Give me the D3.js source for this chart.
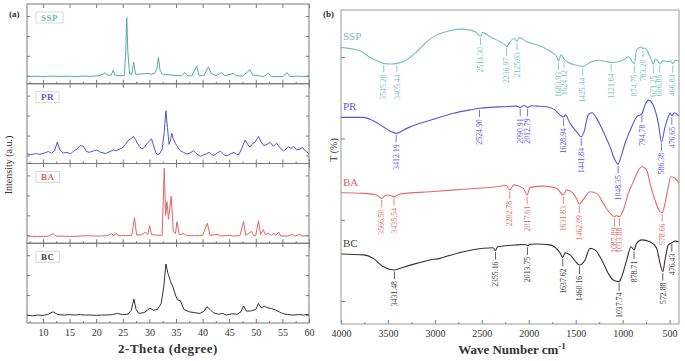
<!DOCTYPE html>
<html>
<head>
<meta charset="utf-8">
<script src="https://cdn.jsdelivr.net/npm/d3@7"></script>
<style>
  body { margin: 0; background: #fff; }
  text { font-family: "Liberation Serif", "Times New Roman", serif; }
</style>
</head>
<body>
<svg width="685" height="361"></svg>
<script>
// ---- (a) XRD patterns, [2-theta, intensity a.u.] ----
var sspXrd = [[7,9],[8.5,9.5],[10,9],[11.5,9.6],[13,9.1],[14.5,9.5],[16,9],[17.5,9.6],[19,9.2],[20.5,10],[21.3,12],[21.7,14],[22.1,11],[22.8,10.5],[23.2,17],[23.5,11],[24.5,10],[25.3,10.5],[25.55,40],[25.75,83],[25.95,40],[26.3,12],[26.7,12],[27.05,27],[27.4,12],[28,12],[29,12.5],[29.8,13],[30.3,12],[31,13],[31.4,18],[31.7,33],[32,17],[32.5,12],[33,11.5],[34,11],[35,10.5],[36,10],[36.7,14],[37.2,10],[38,10],[38.9,22],[39.3,11],[40.2,10],[41.1,21],[41.6,13],[42.5,10],[43.6,14],[44.2,10],[45.8,13],[46.3,10],[47.5,9.5],[48.9,17.5],[49.4,11],[50.5,10],[51.5,9],[52.4,13],[52.9,9],[54,9],[55.1,9],[55.9,14],[56.4,9],[58,9.5],[59,9],[60,10]];
var prXrd = [[7,12],[7.8,11],[8.6,12.5],[9.4,11.5],[10.2,13],[11,15],[11.6,13],[12.2,16],[12.7,27],[13.2,17],[13.8,13],[14.5,14],[15.2,12],[15.8,16],[16.4,18],[17,22.5],[17.6,21.5],[18.2,15],[18.7,14],[19.4,15.5],[20.1,17],[20.8,14],[21.8,12.5],[22.6,15],[23.2,17],[23.7,16],[24.3,18],[24.8,19],[25.5,24],[26,29],[26.5,31],[27,34],[27.4,30],[27.8,25],[28.2,21],[28.6,18],[29,20],[29.5,24.5],[30,28],[30.4,31],[30.8,22],[31.2,14],[31.5,11],[32,13],[32.4,18],[32.8,40],[33.1,66],[33.4,45],[33.7,24],[34,30],[34.2,38],[34.5,31],[34.9,25],[35.3,21],[35.8,16],[36.4,14],[37,12],[37.6,13],[38.3,16],[38.9,12],[39.6,9],[40.2,11],[40.7,12],[41.2,14],[41.7,11],[42.1,10],[42.7,13],[43.4,15.5],[44,11],[44.6,9.5],[45.2,12],[45.9,14],[46.4,11],[46.8,11],[47.3,18],[48,29.5],[48.5,24],[48.9,20.5],[49.4,25],[49.9,27],[50.5,34],[51,27],[51.5,22.5],[52.1,24],[52.7,26.5],[53.3,21.5],[53.9,25.5],[54.5,20],[55.2,16],[55.7,18],[56.1,21],[56.6,19],[57.1,21.5],[57.7,17],[58.3,18],[58.8,20],[59.3,16],[60,12.5]];
var baXrd = [[7,9],[9,8.5],[11,8.8],[11.9,12],[12.4,9],[14,8.7],[16,8.6],[18,9.5],[20,9],[22,9.3],[22.9,12],[23.3,9.5],[23.8,12],[24.3,9.5],[25.5,9.5],[26.7,10],[27.2,32],[27.6,10.5],[28.5,10.5],[29.3,14],[29.7,11],[30.05,22],[30.4,11],[31.5,10],[32.4,10],[32.8,94],[33.05,35],[33.3,52],[33.6,30],[34.1,59],[34.5,15],[34.9,12],[35.2,27],[35.6,11],[36.5,12],[37,9.5],[38.5,9.5],[40,10],[40.9,25],[41.4,10],[42.9,11],[43.4,9],[45.1,10],[45.6,9],[47,9.5],[47.7,28],[48.1,10],[49.2,15],[49.6,9.5],[50,10],[50.5,28],[50.9,11],[51.4,17],[51.8,11],[52.4,12.5],[52.9,10],[53.4,12.5],[53.8,10],[54.3,14],[54.7,9],[56,9],[56.9,11],[57.3,9],[58.3,11],[58.7,9],[60,9.5]];
var bcXrd = [[7,10],[8,9],[9,10],[10,9.5],[11,11],[11.9,14],[12.8,10.5],[14,10],[15,10.5],[16,10],[17,10.5],[18,10],[19,10],[20,9.5],[21,10],[22,10],[23,10.5],[24,12],[25,10.5],[26,11],[26.6,16],[27.1,30],[27.5,17],[28,12],[29,13],[30.1,18.5],[30.8,16],[31.5,17],[32.2,24],[32.7,45],[33.1,74],[33.5,62],[34,52],[34.5,44],[34.9,35],[35.3,29],[35.8,28],[36.5,17],[37.5,14],[38.5,13],[39.5,12],[40.3,15],[40.8,20.5],[41.4,17],[42,13],[43,11],[43.7,12],[44.5,10],[45.5,11.5],[46.5,11],[47.2,14],[47.7,21.5],[48.2,15],[49,15],[50,17],[50.5,24.5],[51,19],[51.6,21],[52.3,19],[53,18],[53.7,16.5],[54.4,14],[55,12],[56,10.5],[57,10],[58,10.5],[59,10],[60,11]];
var xrdNames = ["SSP", "PR", "BA", "BC"];
var thetaTicks = [10, 15, 20, 25, 30, 35, 40, 45, 50, 55, 60];

// ---- (b) FTIR spectra, [wave number, T (%)] (curves stacked) ----
var sspIr = [[4000,88.1],[3800,87.0],[3690,84.9],[3600,83.6],[3545.28,83.0],[3470,82.8],[3405.44,83.0],[3300,84.1],[3194,86.7],[3087,89.9],[2981,92.0],[2840,93.4],[2733,93.9],[2626,93.6],[2560,92.9],[2514.30,91.7],[2490,92.8],[2413,91.5],[2307,89.9],[2260,89.0],[2236.97,88.3],[2200,89.8],[2160,90.9],[2125.63,90.1],[2100,91.2],[2022,89.9],[1916,88.9],[1809,87.5],[1739,86.2],[1700,85.0],[1683.93,83.8],[1655,85.8],[1624.12,84.4],[1580,83.3],[1500,82.5],[1425.44,82.0],[1350,83.3],[1250,84.0],[1180,83.6],[1121.64,83.3],[1040,83.6],[980,84.3],[940,85.1],[874.75,82.9],[851,87.3],[800,88.2],[783.20,87.7],[760,87.9],[744,87.3],[700,84.5],[671.25,82.7],[655,84.3],[630,84.0],[606.85,82.9],[570,83.8],[520,83.6],[490,83.8],[466.84,82.9],[440,84.0],[400,83.8]];
var prIr = [[4000,65.8],[3762,65.8],[3656,64.7],[3549,62.8],[3480,61.5],[3412.19,60.7],[3300,62.3],[3159,63.9],[2981,65.5],[2804,67.1],[2626,68.2],[2524.90,68.7],[2413,69.0],[2271,69.2],[2129,69.4],[2090.91,69.0],[2050,69.6],[2012.79,69.0],[1970,69.5],[1916,69.4],[1809,69.2],[1721,68.2],[1668,66.6],[1628.94,65.9],[1610,66.6],[1561,63.9],[1490,61.2],[1441.84,59.6],[1412,61.2],[1366,66.6],[1330,67.3],[1277,65.5],[1206,61.2],[1135,56.5],[1082,52.2],[1048.35,50.9],[1029,52.2],[975,57.5],[904,62.8],[851,66.0],[794.78,67.0],[762,69.7],[727,71.3],[674,69.7],[620,63.9],[586.38,58.0],[549,62.8],[514,66.0],[495,67.2],[476.65,66.3],[450,67.3],[400,66.2]];
var baIr = [[4000,41.8],[3762,41.6],[3620,41.1],[3566.50,40.0],[3520,41.1],[3480,41.0],[3435.54,40.5],[3372,41.4],[3052,42.1],[2698,42.9],[2342,43.7],[2240,44.1],[2202.78,42.7],[2160,44.3],[2058,43.2],[2017.61,41.1],[1987,43.5],[1845,43.9],[1703,43.2],[1631.83,41.1],[1596,42.7],[1526,41.6],[1490,39.8],[1462.09,38.2],[1420,39.6],[1348,42.1],[1277,41.6],[1206,38.4],[1135,35.3],[1087.89,34.2],[1064,34.5],[1033.88,34.2],[993,36.3],[940,41.6],[887,45.3],[797,50.1],[744,49.0],[709,44.8],[656,39.5],[602,35.8],[578.66,35.5],[549,38.4],[514,43.7],[488,46.9],[443,46.4],[400,44.8]];
var bcIr = [[4000,22.3],[3762,22.0],[3656,20.9],[3549,18.2],[3431.48,17.2],[3336,18.1],[3194,19.3],[3052,20.4],[2946,20.9],[2892,21.4],[2698,23.0],[2484,24.1],[2380,24.3],[2355.16,23.4],[2330,24.6],[2129,25.2],[2040,25.3],[2013.75,24.9],[1990,25.4],[1916,25.5],[1774,25.2],[1668,22.7],[1637.62,21.2],[1614,22.7],[1561,22.0],[1490,19.5],[1460.16,18.8],[1401,20.4],[1348,24.1],[1295,23.6],[1223,20.4],[1153,16.1],[1100,14.0],[1037.74,13.5],[1010,15.1],[957,20.4],[911,24.6],[878.71,23.6],[851,25.7],[797,26.8],[709,26.2],[638,24.1],[602,19.3],[572.88,16.7],[549,20.4],[514,25.2],[476.43,25.9],[443,26.4],[400,26.2]];
var sspPeaks = ["3545.28","3405.44","2514.30","2236.97","2125.63","1683.93","1624.12","1425.44","1121.64","874.75","783.20","671.25","606.85","466.84"];
var prPeaks = ["3412.19","2524.90","2090.91","2012.79","1628.94","1441.84","1048.35","794.78","586.38","476.65"];
var baPeaks = ["3566.50","3435.54","2202.78","2017.61","1631.83","1462.09","1087.89","1033.88","578.66"];
var bcPeaks = ["3431.48","2355.16","2013.75","1637.62","1460.16","1037.74","878.71","572.88","476.43"];
var waveTicks = [4000, 3500, 3000, 2500, 2000, 1500, 1000, 500];

var colors = ["#4fae9e", "#5252d6", "#e26464", "#333333"];
var irColors = ["#74c1b3", "#5656dc", "#e46a6a", "#333333"];
var labelColors = ["#6cc0b2", "#5a5ae0", "#e06060", "#444444"];

var svg = d3.select("svg");
var frameColor = "#7a7a7a";

// ================= panel (a) =================
var x = d3.scaleLinear().domain([7, 60]).range([27, 309]);
var panelTop = 4, panelH = 79.75;
var xrdSets = [sspXrd, prXrd, baXrd, bcXrd];

function styleAxis(g) {
  g.select(".domain").remove();
  g.selectAll(".tick line").attr("stroke", frameColor);
  g.selectAll(".tick text").attr("fill", "#333").style("font-size", "10px");
}

xrdSets.forEach(function(data, i) {
  var top = panelTop + i * panelH;
  var bottom = top + panelH;
  var y = d3.scaleLinear().domain([0, 100]).range([bottom, top]);
  var g = svg.append("g");

  g.append("g")
    .attr("transform", "translate(0," + bottom + ")")
    .call(d3.axisBottom(x).tickValues(thetaTicks).tickSize(-4).tickPadding(6)
      .tickFormat(i === 3 ? d3.format("d") : ""))
    .call(styleAxis);
  g.append("g")
    .attr("transform", "translate(0," + bottom + ")")
    .call(d3.axisBottom(x).tickValues(thetaTicks.map(d => d - 2.5)).tickSize(-2).tickFormat(""))
    .call(styleAxis);
  g.append("g")
    .attr("transform", "translate(0," + top + ")")
    .call(d3.axisTop(x).tickValues(thetaTicks).tickSize(-4).tickFormat(""))
    .call(styleAxis);
  g.append("g")
    .attr("transform", "translate(27,0)")
    .call(d3.axisLeft(y).tickValues([10, 35, 60, 85]).tickSize(-3).tickFormat(""))
    .call(styleAxis);
  g.append("g")
    .attr("transform", "translate(309,0)")
    .call(d3.axisRight(y).tickValues([10, 35, 60, 85]).tickSize(-3).tickFormat(""))
    .call(styleAxis);

  g.append("path")
    .datum(data)
    .attr("fill", "none")
    .attr("stroke", colors[i])
    .attr("stroke-width", 1)
    .attr("d", d3.line().x(d => x(d[0])).y(d => y(d[1])));

  g.append("rect")
    .attr("x", 27).attr("y", top)
    .attr("width", 282).attr("height", panelH)
    .attr("fill", "none").attr("stroke", frameColor);

  var box = g.append("rect")
    .attr("x", 36).attr("y", top + 8)
    .attr("height", 11)
    .attr("fill", "#fff").attr("stroke", "#cfcfcf").attr("stroke-width", 0.8);
  var lbl = g.append("text")
    .attr("x", 41).attr("y", top + 16.5)
    .attr("fill", labelColors[i])
    .style("font-size", "9px").style("font-weight", "bold")
    .style("letter-spacing", "0.5px")
    .text(xrdNames[i]);
  box.attr("width", lbl.node().getComputedTextLength() + 10);
});

svg.append("text")
  .attr("x", 168).attr("y", 353)
  .attr("text-anchor", "middle")
  .attr("fill", "#333")
  .style("font-size", "13px").style("font-weight", "bold").style("letter-spacing", "0.5px")
  .text("2-Theta (degree)");

svg.append("text")
  .attr("transform", "translate(12,165) rotate(-90)")
  .attr("text-anchor", "middle")
  .attr("fill", "#333")
  .style("font-size", "10px")
  .text("Intensity (a.u.)");

svg.append("text")
  .attr("x", 9).attr("y", 17)
  .attr("fill", "#333")
  .style("font-size", "9px").style("font-weight", "bold")
  .text("(a)");

// ================= panel (b) =================
var xw = d3.scaleLinear().domain([4000, 400]).range([341, 679]);
var yt = d3.scaleLinear().domain([0, 100]).range([324, 10]);

var gb = svg.append("g");
gb.append("g")
  .attr("transform", "translate(0,324)")
  .call(d3.axisBottom(xw).tickValues(waveTicks).tickSize(-4).tickPadding(6).tickFormat(d3.format("d")))
  .call(styleAxis);
gb.append("g")
  .attr("transform", "translate(0,324)")
  .call(d3.axisBottom(xw).tickValues(waveTicks.map(d => d - 250)).tickSize(-2).tickFormat(""))
  .call(styleAxis);
gb.append("g")
  .attr("transform", "translate(341,0)")
  .call(d3.axisLeft(yt).tickValues(d3.range(4).map(k => 7.3 + k * 25.9)).tickSize(-4).tickFormat(""))
  .call(styleAxis);

var irSets = [sspIr, prIr, baIr, bcIr];
var peakSets = [sspPeaks, prPeaks, baPeaks, bcPeaks];
var irLine = d3.line().x(d => xw(d[0])).y(d => yt(d[1])).curve(d3.curveMonotoneX);

irSets.forEach(function(data, i) {
  gb.append("path")
    .datum(data)
    .attr("fill", "none")
    .attr("stroke", irColors[i])
    .attr("stroke-width", 1.1)
    .attr("d", irLine);

  gb.append("text")
    .attr("x", 343).attr("y", yt(data[0][1]) - 7)
    .attr("fill", labelColors[i])
    .style("font-size", "11px")
    .text(xrdNames[i]);

  peakSets[i].forEach(function(label) {
    var wn = +label;
    var p = d3.least(data, d => Math.abs(d[0] - wn));
    var px = xw(wn), py = yt(p[1]);
    gb.append("line")
      .attr("x1", px).attr("x2", px)
      .attr("y1", py + 1.5).attr("y2", py + 9)
      .attr("stroke", irColors[i]).attr("stroke-width", 0.8);
    gb.append("text")
      .attr("transform", "translate(" + px + "," + (py + 11) + ") rotate(-90)")
      .attr("text-anchor", "end")
      .attr("dy", "0.35em")
      .attr("fill", irColors[i])
      .style("font-size", "7.8px")
      .text(label);
  });
});

gb.append("rect")
  .attr("x", 341).attr("y", 10)
  .attr("width", 338).attr("height", 314)
  .attr("fill", "none").attr("stroke", "#9a9a9a");

var title = svg.append("text")
  .attr("x", 512).attr("y", 354)
  .attr("text-anchor", "middle")
  .attr("fill", "#333")
  .style("font-size", "13px").style("font-weight", "bold");
title.append("tspan").text("Wave Number cm");
title.append("tspan").attr("dy", -5).style("font-size", "9px").text("-1");

svg.append("text")
  .attr("transform", "translate(337,150) rotate(-90)")
  .attr("text-anchor", "middle")
  .attr("fill", "#333")
  .style("font-size", "10px")
  .text("T (%)");

svg.append("text")
  .attr("x", 323).attr("y", 17)
  .attr("fill", "#333")
  .style("font-size", "9px").style("font-weight", "bold")
  .text("(b)");
</script>
</body>
</html>
